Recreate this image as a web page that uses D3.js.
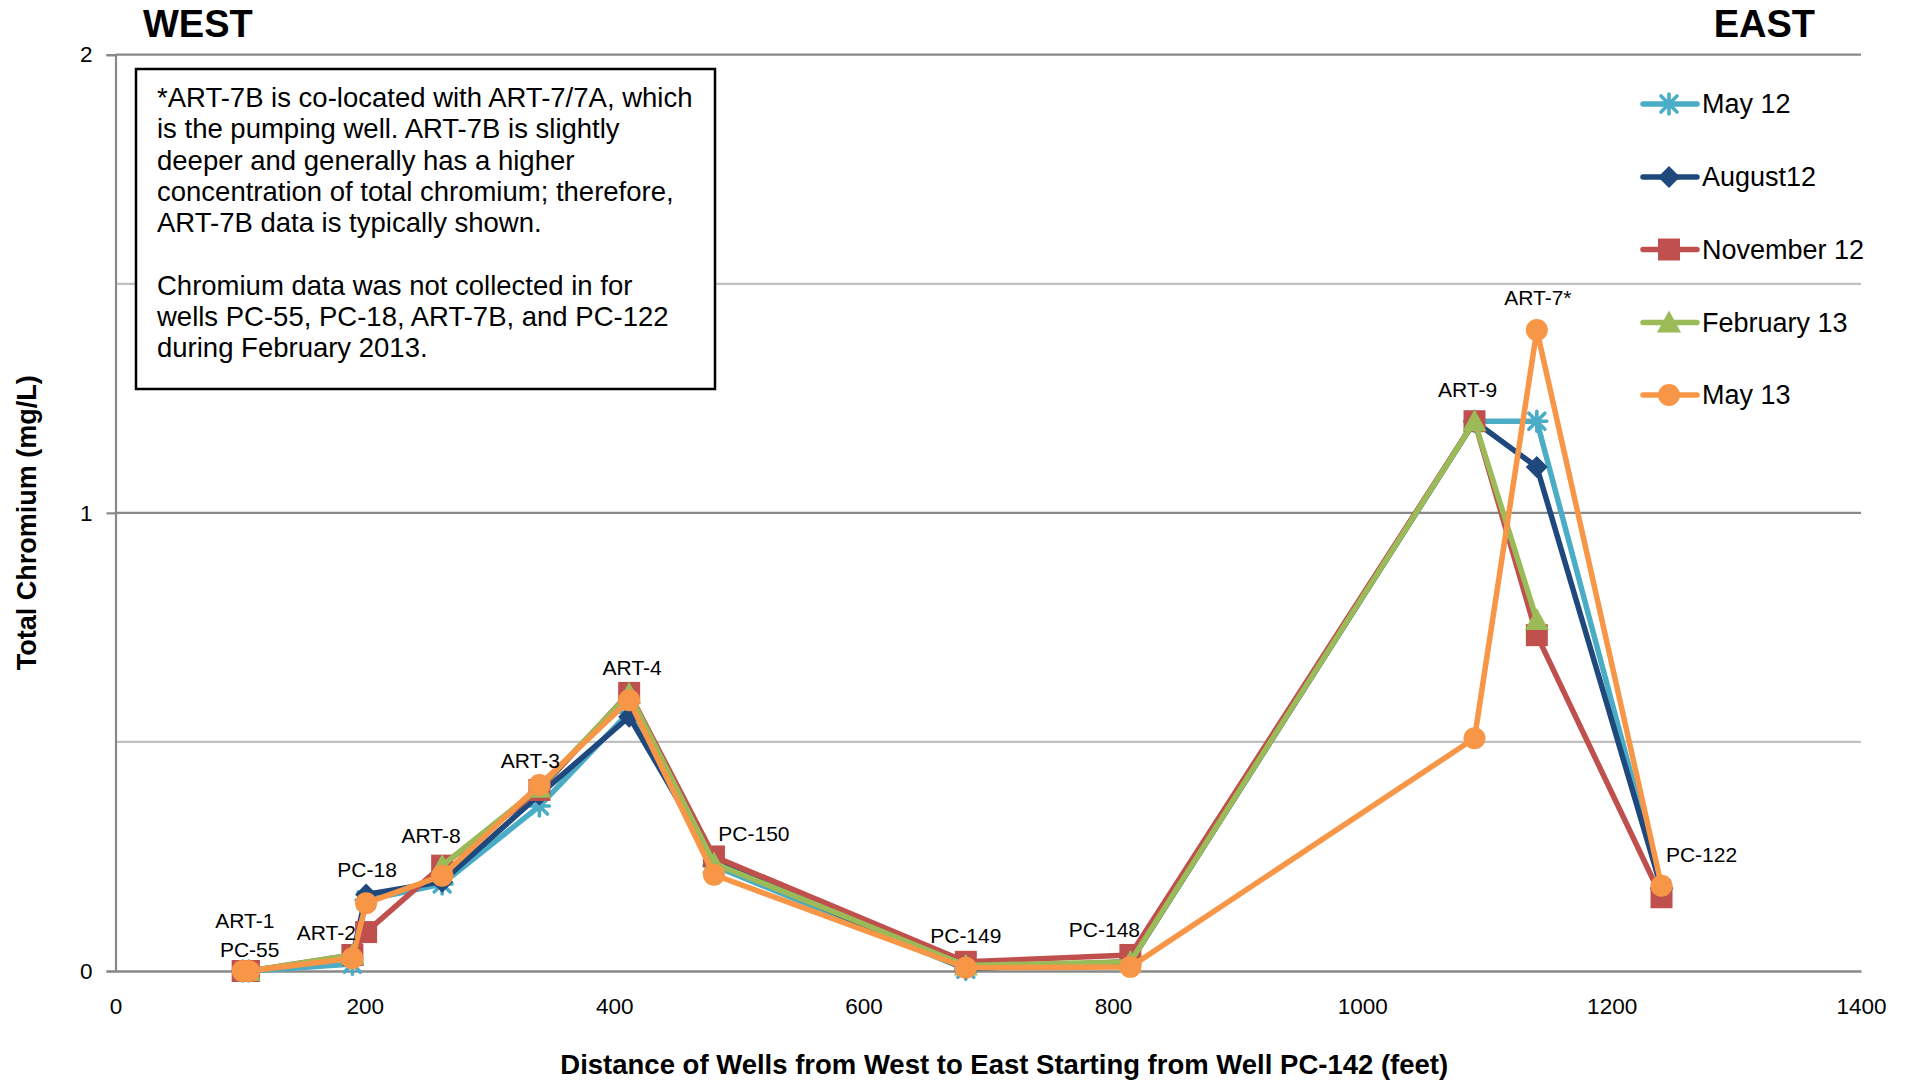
<!DOCTYPE html>
<html>
<head>
<meta charset="utf-8">
<script src="https://cdn.jsdelivr.net/npm/d3@7"></script>
<style>
  html, body { margin: 0; padding: 0; background: #fff; }
  svg { display: block; font-family: "Liberation Sans", Arial, Helvetica, sans-serif; }
</style>
</head>
<body>
<svg id="chart" width="1906" height="1080"></svg>
<script>
// Wells ordered west to east, with distance from well PC-142 (feet)
const wells = ["PC-55", "ART-1", "ART-2", "PC-18", "ART-8", "ART-3", "ART-4",
               "PC-150", "PC-149", "PC-148", "ART-9", "ART-7*", "PC-122"];
const distances = [102, 107, 190, 201, 262, 340, 412, 480, 682, 814, 1090, 1140, 1240];

// Total chromium (mg/L) per sampling event; null = not sampled
const may12 = [0, 0, 0.015, 0.155, 0.19, 0.36, 0.565, 0.23, 0.004, 0.02, 1.2, 1.2, 0.18];
const aug12 = [0, 0, 0.03, 0.167, 0.195, 0.385, 0.555, 0.24, 0.005, 0.02, 1.2, 1.1, 0.18];
const nov12 = [0, 0, 0.035, 0.085, 0.23, 0.395, 0.607, 0.25, 0.02, 0.035, 1.2, 0.733, 0.161];
const feb13 = [null, 0, 0.035, null, 0.23, 0.40, 0.605, 0.235, 0.012, 0.02, 1.2, 0.766, null];
const may13 = [0, 0, 0.028, 0.148, 0.208, 0.406, 0.591, 0.21, 0.007, 0.009, 0.508, 1.399, 0.186];

const seriesNames = ["May 12", "August12", "November 12", "February 13", "May 13"];
const seriesValues = [may12, aug12, nov12, feb13, may13];

const xTicks = [0, 200, 400, 600, 800, 1000, 1200, 1400];
const yTicks = [0, 1, 2];
const yGrid = [0.5, 1, 1.5, 2];

const noteLines = [
  "*ART-7B is co-located with ART-7/7A, which",
  "is the pumping well. ART-7B is slightly",
  "deeper and generally has a higher",
  "concentration of total chromium; therefore,",
  "ART-7B data is typically shown.",
  "",
  "Chromium data was not collected in for",
  "wells PC-55, PC-18, ART-7B, and PC-122",
  "during February 2013."
];

// ---- presentation ----
const colors = ["#4BACC6", "#1F497D", "#C0504D", "#9BBB59", "#F79646"];
const markerKinds = ["star", "diamond", "square", "triangle", "circle"];

// label placement relative to the well position and its highest reading
const labelOffset = {
  "PC-55": [7, -14], "ART-1": [-4, -43], "ART-2": [-26, -15], "PC-18": [1, -17],
  "ART-8": [-11, -23], "ART-3": [-9, -17], "ART-4": [3, -18], "PC-150": [40, -15],
  "PC-149": [0, -19], "PC-148": [-26, -18], "ART-9": [-7, -24], "ART-7*": [1, -25],
  "PC-122": [40, -24]
};

const svg = d3.select("#chart");
const x = d3.scaleLinear().domain([0, 1400]).range([115.5, 1861]);
const y = d3.scaleLinear().domain([0, 2]).range([971, 54.7]);

// gridlines
svg.append("g").selectAll("line").data(yGrid).join("line")
  .attr("x1", x(0)).attr("x2", x(1400))
  .attr("y1", d => y(d)).attr("y2", d => y(d))
  .attr("stroke", d => Number.isInteger(d) ? "#888888" : "#C0C0C0")
  .attr("stroke-width", 2.2);

// y axis
const yAxis = svg.append("g").attr("transform", `translate(${x(0)},0)`)
  .call(d3.axisLeft(y).tickValues(yTicks).tickSize(9).tickPadding(14).tickFormat(d3.format("d")));
yAxis.select(".domain").attr("stroke", "#888888").attr("stroke-width", 2.2);
yAxis.selectAll(".tick line").attr("stroke", "#888888").attr("stroke-width", 2.2);
yAxis.selectAll(".tick text").attr("font-size", 22.5).attr("fill", "#000")
  .attr("font-family", "\"Liberation Sans\", Arial, sans-serif");

// x axis
const xAxis = svg.append("g").attr("transform", `translate(0,${y(0)})`)
  .call(d3.axisBottom(x).tickValues(xTicks).tickSize(0).tickPadding(27).tickFormat(d3.format("d")));
xAxis.select(".domain").attr("stroke", "#888888").attr("stroke-width", 2.6);
xAxis.selectAll(".tick text").attr("font-size", 22.5).attr("fill", "#000")
  .attr("font-family", "\"Liberation Sans\", Arial, sans-serif");

// axis titles
svg.append("text")
  .attr("x", (x(0) + x(1400)) / 2 + 16).attr("y", 1074)
  .attr("text-anchor", "middle").attr("font-weight", "bold").attr("font-size", 27.5)
  .text("Distance of Wells from West to East Starting from Well PC-142 (feet)");
svg.append("text")
  .attr("transform", `translate(27,${(y(0) + y(2)) / 2 + 10}) rotate(-90)`)
  .attr("text-anchor", "middle").attr("dominant-baseline", "central")
  .attr("font-weight", "bold").attr("font-size", 27)
  .text("Total Chromium (mg/L)");

// direction headings
svg.append("text").attr("x", 143).attr("y", 36.5)
  .attr("font-weight", "bold").attr("font-size", 38).text("WEST");
svg.append("text").attr("x", 1815).attr("y", 36.5).attr("text-anchor", "end")
  .attr("font-weight", "bold").attr("font-size", 38).text("EAST");

// marker shapes
function markerPath(kind) {
  switch (kind) {
    case "star": return "M-8,-8L8,8M-8,8L8,-8M0,-10L0,10M-10,0L10,0";
    case "diamond": return "M0,-11L11,0L0,11L-11,0Z";
    case "square": return "M-11,-11H11V11H-11Z";
    case "triangle": return "M0,-12L12,10H-12Z";
    default: return d3.symbol(d3.symbolCircle, 380)();
  }
}
function drawMarker(g, kind, color) {
  const p = g.append("path").attr("d", markerPath(kind));
  if (kind === "star") {
    p.attr("fill", "none").attr("stroke", color).attr("stroke-width", 3.6).attr("stroke-linecap", "round");
  } else {
    p.attr("fill", color);
  }
}

// series lines and markers
const line = d3.line()
  .defined(d => d.v !== null)
  .x(d => x(d.d)).y(d => y(d.v));

seriesValues.forEach((vals, si) => {
  const pts = vals.map((v, i) => ({ d: distances[i], v }));
  const g = svg.append("g");
  g.append("path").datum(pts).attr("d", line)
    .attr("fill", "none").attr("stroke", colors[si]).attr("stroke-width", 5.5)
    .attr("stroke-linejoin", "round").attr("stroke-linecap", "round");
  pts.filter(p => p.v !== null).forEach(p => {
    const m = g.append("g").attr("transform", `translate(${x(p.d)},${y(p.v)})`);
    drawMarker(m, markerKinds[si], colors[si]);
  });
});

// well labels
wells.forEach((w, i) => {
  const top = d3.max(seriesValues, s => s[i]);
  const [dx, dy] = labelOffset[w];
  svg.append("text")
    .attr("x", x(distances[i]) + dx).attr("y", y(top) + dy)
    .attr("text-anchor", "middle").attr("font-size", 21).attr("fill", "#000")
    .text(w);
});

// note box
svg.append("rect").attr("x", 136).attr("y", 69).attr("width", 579).attr("height", 320)
  .attr("fill", "#fff").attr("stroke", "#000").attr("stroke-width", 2.5);
svg.append("g").selectAll("text").data(noteLines).join("text")
  .attr("x", 157).attr("y", (d, i) => 107 + i * 31.3)
  .attr("font-size", 27.5).attr("fill", "#000").text(d => d);

// legend
const legendY = [104, 177, 249.5, 322.5, 395];
seriesNames.forEach((name, si) => {
  const g = svg.append("g").attr("transform", `translate(0,${legendY[si]})`);
  g.append("line").attr("x1", 1643).attr("x2", 1697).attr("y1", 0).attr("y2", 0)
    .attr("stroke", colors[si]).attr("stroke-width", 5.5).attr("stroke-linecap", "round");
  const m = g.append("g").attr("transform", "translate(1669,0)");
  drawMarker(m, markerKinds[si], colors[si]);
  g.append("text").attr("x", 1702).attr("y", 0).attr("dominant-baseline", "central")
    .attr("font-size", 27).attr("fill", "#000").text(name);
});
</script>
</body>
</html>
